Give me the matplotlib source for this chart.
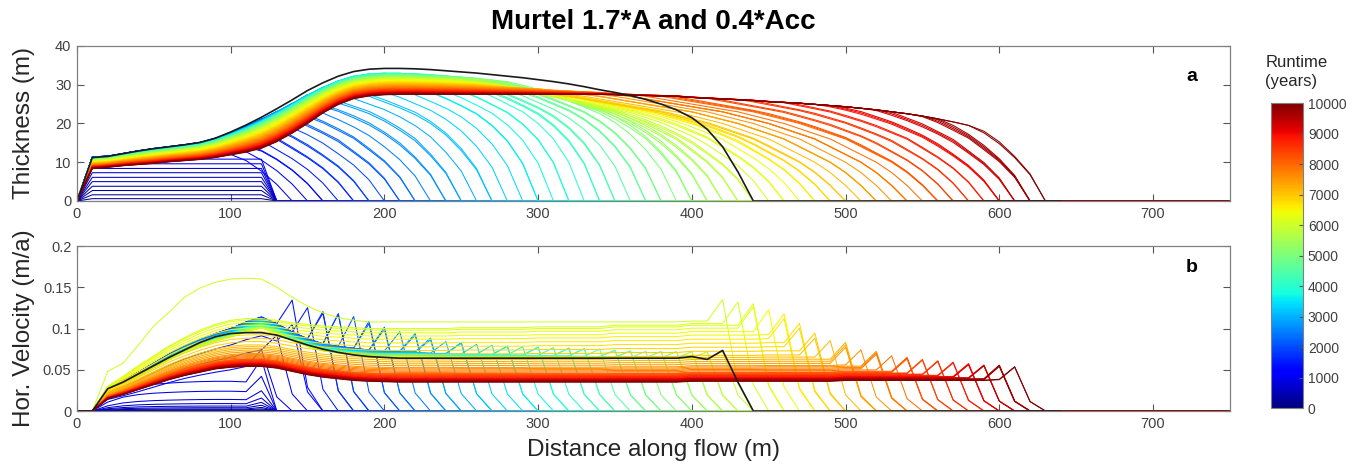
import numpy as np
import matplotlib
matplotlib.use('Agg')
import matplotlib.pyplot as plt
from matplotlib import cm
from matplotlib.colors import Normalize

plt.rcParams['font.family'] = ['Liberation Sans', 'DejaVu Sans']

# grid of the model (m) and output times (years)
xgrid = np.arange(0, 760, 10)
xprof = np.arange(0, 650, 10)
times = np.arange(0, 10100, 100)

# thickness envelopes (x = 0..640 m, step 10)
upperThick = [0, 11.4, 11.6, 12.3, 13.0, 13.6, 14.1, 14.6, 15.2, 16.3,
              17.8, 19.5, 21.4, 23.5, 25.7, 28.0, 30.0, 31.7, 32.9, 33.5,
              33.8, 33.8, 33.7, 33.5, 33.3, 33.0, 32.7, 32.3, 31.9, 31.5,
              31.1, 30.6, 30.1, 29.6, 29.1, 28.6, 28.2, 27.9, 27.7, 27.5,
              27.3, 27.1, 26.9, 26.7, 26.5, 26.3, 26.0, 25.7, 25.4, 25.1,
              24.8, 24.4, 24.0, 23.5, 23.0, 22.4, 21.7, 20.9, 20.0, 19.0,
              17.9, 16.7, 15.5, 14.2, 13.0]
finalThick = [0, 8.4, 8.7, 9.1, 9.4, 9.7, 10.1, 10.4, 10.7, 11.2,
              11.9, 12.6, 13.6, 15.3, 17.5, 20.0, 22.7, 24.9, 26.4, 27.1,
              27.4, 27.5, 27.5, 27.5, 27.5, 27.5, 27.5, 27.5, 27.5, 27.5,
              27.5, 27.5, 27.5, 27.5, 27.5, 27.4, 27.3, 27.2, 27.1, 27.0,
              26.7, 26.5, 26.3, 26.1, 25.9, 25.6, 25.4, 25.2, 24.9, 24.6,
              24.3, 23.9, 23.5, 23.0, 22.5, 21.9, 21.2, 20.4, 19.5, 18.5,
              17.4, 16.2, 15.0, 13.7, 12.4]
blackThick = [0, 11.2, 11.5, 12.2, 12.9, 13.5, 14.0, 14.5, 15.1, 16.2,
              17.8, 19.6, 21.6, 23.8, 26.1, 28.5, 30.5, 32.2, 33.4, 34.0,
              34.2, 34.2, 34.1, 33.9, 33.6, 33.3, 33.0, 32.6, 32.2, 31.8,
              31.3, 30.8, 30.2, 29.5, 28.7, 28.0, 27.2, 26.2, 25.0, 23.5,
              21.5, 18.5, 14.0, 7.5, 0] + [0] * 20

# front shape (height vs distance behind the front)
frontDist = [0, 5, 10, 20, 30, 40, 60, 80, 100, 150, 200, 400]
frontHeight = [0, 6, 10, 16, 20, 23, 27, 30, 32.5, 37, 41, 60]

# front position vs runtime
frontT = [1000, 1100, 1500, 2000, 2500, 3000, 3700, 4500, 5000, 6000, 7000, 8000, 9000, 10000]
frontX = [130, 140, 170, 200, 230, 260, 310, 360, 390, 445, 505, 555, 600, 630]
# thinning of the surface (0 = upper envelope, 1 = final profile)
thinT = [1000, 2000, 3000, 4000, 5000, 6000, 7000, 8000, 9000, 10000]
thinW = [0, 0.03, 0.08, 0.14, 0.22, 0.35, 0.55, 0.75, 0.9, 1.0]
# height cap while the early body builds up
capT = [1100, 1200, 1300, 1400, 1500, 1700, 2000, 2500, 3000, 3500, 4000]
capH = [12, 13, 14, 15, 16, 18.5, 22, 27, 31, 35, 60]
# front spread factor
spreadT = [1100, 1500, 2000, 2500, 3000, 3500, 4000, 5000, 6000, 7000, 8000, 9000, 10000]
spreadR = [2.8, 2.6, 2.2, 1.8, 1.4, 1.05, 1.0, 1.3, 2.2, 3.0, 3.0, 2.3, 1.6]

# first 1000 years: flat bodies up to x = 120 m
flatThick = [0, 0.6, 1.6, 2.7, 3.8, 5.0, 6.1, 7.3, 8.4, 9.6, 10.8]
flatVel = [0, 0.0003, 0.0008, 0.0015, 0.0025, 0.004, 0.006, 0.009, 0.014, 0.024, 0.036]
flatShape = [0, 0, 0.45, 0.7, 0.83, 0.9, 0.94, 0.97, 0.99, 1.0, 1.0, 0.98, 1.75, 0]

# velocity profiles (x = 0..640 m, step 10)
upperVel = ([0, 0, 0.028, 0.037, 0.047, 0.058, 0.069, 0.079, 0.087, 0.094,
             0.100, 0.108, 0.114, 0.106, 0.096, 0.088, 0.082, 0.079, 0.077, 0.075,
             0.074, 0.074, 0.074, 0.073, 0.073, 0.073, 0.073, 0.073, 0.073, 0.073]
            + [0.073] * 5 + [0.072] * 15 + [0.071] * 15)
finalVel = ([0, 0, 0.015, 0.020, 0.026, 0.032, 0.038, 0.043, 0.047, 0.051,
             0.053, 0.054, 0.054, 0.052, 0.048, 0.044, 0.041, 0.039, 0.037, 0.036,
             0.0355] + [0.035] * 19 + [0.036] * 10 + [0.037] * 10 + [0.038] * 5)
yellowVel = ([0, 0, 0.030, 0.042, 0.055, 0.067, 0.079, 0.089, 0.098, 0.105,
              0.110, 0.112, 0.112, 0.110, 0.107, 0.105, 0.103, 0.102, 0.101, 0.100]
             + [0.100] * 5 + [0.101] * 5 + [0.102] * 5 + [0.104] * 5
             + [0.106] * 5 + [0.107] * 20)
vel6000 = ([0, 0, 0.048, 0.058, 0.080, 0.103, 0.120, 0.138, 0.149, 0.156,
            0.160, 0.161, 0.160, 0.150, 0.138, 0.127, 0.119, 0.113, 0.110, 0.108]
           + [0.108] * 20 + [0.109] * 10 + [0.110] * 15)
blackVel = ([0, 0, 0.027, 0.035, 0.045, 0.055, 0.065, 0.074, 0.083, 0.090,
             0.094, 0.095, 0.095, 0.092, 0.086, 0.080, 0.075, 0.071, 0.068, 0.066,
             0.065] + [0.064] * 19 + [0.066, 0.0625, 0.0735, 0.035, 0] + [0] * 20)

# velocity amplitude tables
rampT = [1000, 1100, 1200, 1300, 1400]
rampS = [0.4, 0.5, 0.65, 0.8, 1.0]
bandT = [1400, 2500, 3500, 5000, 5900]
bandA = [1.0, 0.97, 0.88, 0.8, 0.78]
decayT = [6100, 6200, 6300, 6400, 6500, 7000, 7500, 8000, 9000, 10000]
decayC = [1.0, 0.97, 0.92, 0.86, 0.8, 0.45, 0.27, 0.16, 0.06, 0.0]
spikeT = [1100, 1400, 1800, 2000, 2500, 3000, 3500, 5000, 5900, 6000, 7000, 8000, 10000]
spikeK = [1.3, 1.4, 1.5, 1.5, 1.32, 1.2, 1.15, 1.12, 1.12, 1.24, 1.3, 1.35, 1.4]


def onGrid(values):
    out = np.zeros(len(xgrid))
    out[:len(values)] = values
    return out


U, L = onGrid(upperThick), onGrid(finalThick)
VU, VL, VY, V6 = onGrid(upperVel), onGrid(finalVel), onGrid(yellowVel), onGrid(vel6000)


def profiles(t):
    if t <= 1000:
        i = int(t // 100)
        h = np.zeros(len(xgrid))
        h[1:13] = flatThick[i]
        v = np.zeros(len(xgrid))
        v[:len(flatShape)] = np.array(flatShape) * flatVel[i]
        return h, v

    xf = int(round(np.interp(t, frontT, frontX) / 10.0) * 10)
    w = np.interp(t, thinT, thinW)
    surf = U - w * (U - L)
    cap = np.interp(t, capT, capH)
    r = np.interp(t, spreadT, spreadR)
    d = xf - xgrid
    front = np.interp(np.clip(d, 0, None) / r, frontDist, frontHeight)
    h = np.minimum(np.minimum(surf, cap), front)
    h[d <= 0] = 0
    h[0] = 0

    if t < 6000:
        band = VL + np.interp(t, bandT, bandA) * (VU - VL)
        band = band * np.interp(t, rampT, rampS)
    elif t == 6000:
        band = V6.copy()
    else:
        band = VL + np.interp(t, decayT, decayC) * (VY - VL)
    k = np.interp(t, spikeT, spikeK)
    v = band.copy()
    ip = xf // 10 - 2
    v[ip] = k * band[ip]
    v[ip + 1] = 0.3 * band[ip]
    v[ip + 2:] = 0
    return h, v


fig = plt.figure(figsize=(13.62, 4.67), dpi=100)
ax1 = fig.add_axes([0.0565, 0.5696, 0.8465, 0.332])
ax2 = fig.add_axes([0.0565, 0.1199, 0.8465, 0.3533])
cax = fig.add_axes([0.9332, 0.1263, 0.0235, 0.6531])

norm = Normalize(0, 10000)
for t in times:
    h, v = profiles(t)
    col = cm.jet(norm(t))
    ax1.plot(xgrid, h, color=col, lw=0.75)
    ax2.plot(xgrid, v, color=col, lw=0.75)

ax1.plot(xprof, blackThick, color='#1a1a1a', lw=1.2)
ax2.plot(xprof, blackVel, color='#1a1a1a', lw=1.2)

for ax in (ax1, ax2):
    ax.set_xlim(0, 750)
    ax.set_xticks(range(0, 800, 100))
    ax.tick_params(direction='in', top=True, right=True, length=5, width=0.8,
                   color='#555555', labelcolor='#404040', labelsize=10.5, pad=4)
    for s in ax.spines.values():
        s.set_color('#808080')
        s.set_linewidth(0.9)

ax1.set_ylim(0, 40)
ax1.set_yticks([0, 10, 20, 30, 40])
ax1.set_ylabel('Thickness (m)', fontsize=17.5, color='#262626')
ax1.yaxis.set_label_coords(-0.036, 0.5)
ax1.text(0.967, 0.806, 'a', transform=ax1.transAxes, fontsize=14,
         fontweight='bold', ha='center', va='center')

ax2.set_ylim(0, 0.2)
ax2.set_yticks([0, 0.05, 0.1, 0.15, 0.2])
ax2.set_yticklabels(['0', '0.05', '0.1', '0.15', '0.2'])
ax2.set_ylabel('Hor. Velocity (m/a)', fontsize=17.5, color='#262626')
ax2.yaxis.set_label_coords(-0.036, 0.5)
ax2.set_xlabel('Distance along flow (m)', fontsize=17.5, color='#262626', labelpad=6)
ax2.text(0.967, 0.867, 'b', transform=ax2.transAxes, fontsize=14,
         fontweight='bold', ha='center', va='center')

sm = cm.ScalarMappable(norm=norm, cmap='jet')
cb = fig.colorbar(sm, cax=cax, ticks=range(0, 10001, 1000))
cb.outline.set_edgecolor('#808080')
cax.tick_params(direction='in', length=3, color='#555555',
                labelcolor='#404040', labelsize=10)
fig.text(0.929, 0.882, 'Runtime\n(years)', ha='left', va='top',
         fontsize=12, color='#262626', linespacing=1.3)

fig.text(0.48, 0.953, 'Murtel 1.7*A and 0.4*Acc', ha='center', va='center',
         fontsize=20, fontweight='bold')

fig.savefig('out.png', dpi=100)
